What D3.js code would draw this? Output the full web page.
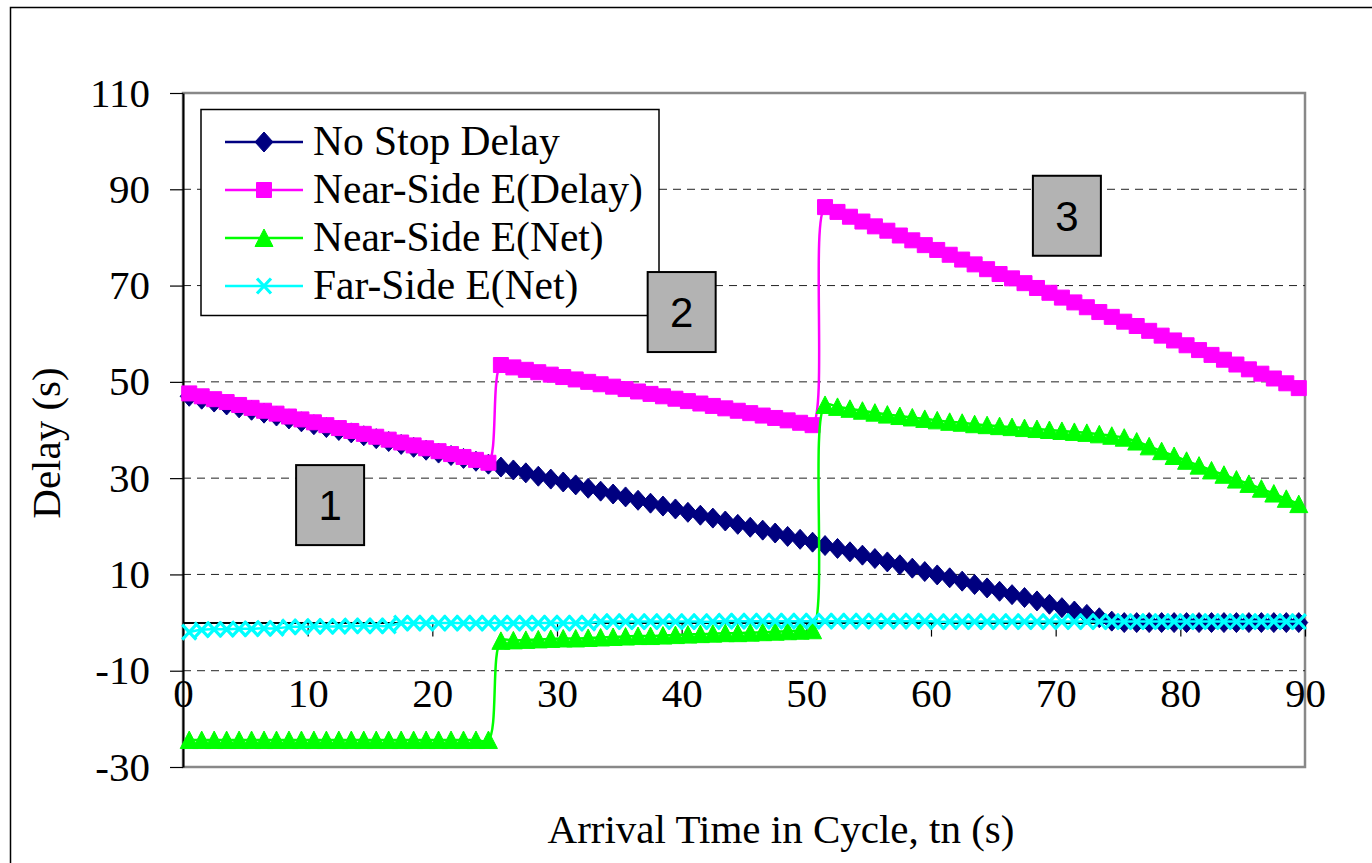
<!DOCTYPE html>
<html>
<head>
<meta charset="utf-8">
<script src="https://cdn.jsdelivr.net/npm/d3@7"></script>
<style>
  body { margin: 0; background: #fff; }
  svg { display: block; }
  text { font-family: "Liberation Serif", "Times New Roman", serif; }
</style>
</head>
<body>
<svg id="chart"></svg>
<script>
// arrival times (s) - points sit in the middle of each second
const TIMES = [
  0.5, 1.5, 2.5, 3.5, 4.5, 5.5, 6.5, 7.5, 8.5, 9.5,
  10.5, 11.5, 12.5, 13.5, 14.5, 15.5, 16.5, 17.5, 18.5, 19.5,
  20.5, 21.5, 22.5, 23.5, 24.5, 25.5, 26.5, 27.5, 28.5, 29.5,
  30.5, 31.5, 32.5, 33.5, 34.5, 35.5, 36.5, 37.5, 38.5, 39.5,
  40.5, 41.5, 42.5, 43.5, 44.5, 45.5, 46.5, 47.5, 48.5, 49.5,
  50.5, 51.5, 52.5, 53.5, 54.5, 55.5, 56.5, 57.5, 58.5, 59.5,
  60.5, 61.5, 62.5, 63.5, 64.5, 65.5, 66.5, 67.5, 68.5, 69.5,
  70.5, 71.5, 72.5, 73.5, 74.5, 75.5, 76.5, 77.5, 78.5, 79.5,
  80.5, 81.5, 82.5, 83.5, 84.5, 85.5, 86.5, 87.5, 88.5, 89.5
];

const NO_STOP_DELAY = [
  47.0, 46.4, 45.8, 45.2, 44.6, 44.1, 43.5, 42.9, 42.3, 41.7,
  41.1, 40.5, 39.9, 39.4, 38.8, 38.2, 37.6, 37.0, 36.4, 35.8,
  35.2, 34.7, 34.1, 33.5, 32.9, 32.3, 31.7, 31.1, 30.4, 29.8,
  29.2, 28.6, 27.9, 27.3, 26.7, 26.1, 25.4, 24.8, 24.2, 23.6,
  22.9, 22.3, 21.7, 21.1, 20.4, 19.8, 19.2, 18.6, 17.9, 17.3,
  16.7, 16.0, 15.4, 14.7, 14.0, 13.3, 12.6, 12.0, 11.3, 10.6,
  9.9, 9.3, 8.6, 7.9, 7.2, 6.5, 5.8, 5.2, 4.5, 3.8,
  3.1, 2.4, 1.7, 1.0, 0.3, 0, 0, 0, 0, 0,
  0, 0, 0, 0, 0, 0, 0, 0, 0, 0
];

const NEAR_SIDE_DELAY = [
  47.6, 47.0, 46.4, 45.8, 45.2, 44.6, 44.0, 43.4, 42.8, 42.2,
  41.6, 41.0, 40.4, 39.8, 39.2, 38.6, 38.0, 37.4, 36.8, 36.2,
  35.6, 35.0, 34.4, 33.8, 33.2, 53.5, 53.0, 52.5, 52.0, 51.5,
  51.0, 50.5, 50.0, 49.5, 49.0, 48.5, 48.0, 47.5, 47.0, 46.5,
  46.0, 45.5, 45.0, 44.5, 44.0, 43.5, 43.0, 42.5, 42.0, 41.5,
  41.0, 86.3, 85.3, 84.3, 83.3, 82.3, 81.4, 80.4, 79.4, 78.4,
  77.4, 76.4, 75.4, 74.4, 73.4, 72.4, 71.5, 70.5, 69.5, 68.5,
  67.5, 66.5, 65.5, 64.5, 63.5, 62.5, 61.6, 60.6, 59.6, 58.6,
  57.6, 56.6, 55.6, 54.6, 53.6, 52.6, 51.7, 50.7, 49.7, 48.7
];

const NEAR_SIDE_NET = [
  -24.4, -24.4, -24.4, -24.4, -24.4, -24.4, -24.4, -24.4, -24.4, -24.4,
  -24.4, -24.4, -24.4, -24.4, -24.4, -24.4, -24.4, -24.4, -24.4, -24.4,
  -24.4, -24.4, -24.4, -24.4, -24.4, -3.8, -3.7, -3.6, -3.5, -3.4,
  -3.3, -3.3, -3.2, -3.1, -3.0, -2.9, -2.8, -2.8, -2.7, -2.6,
  -2.5, -2.4, -2.3, -2.2, -2.2, -2.1, -2.0, -1.9, -1.8, -1.7,
  -1.6, 45.2, 44.8, 44.4, 44.0, 43.6, 43.2, 42.9, 42.6, 42.3,
  42.0, 41.7, 41.5, 41.2, 41.0, 40.8, 40.6, 40.4, 40.2, 40.0,
  39.8, 39.6, 39.4, 39.1, 38.8, 38.4, 37.6, 36.6, 35.6, 34.6,
  33.6, 32.6, 31.6, 30.7, 29.7, 28.8, 27.8, 26.8, 25.7, 24.6
];

const FAR_SIDE_NET = [
  -2.0, -1.5, -1.4, -1.4, -1.3, -1.3, -1.2, -1.2, -0.9, -0.9,
  -0.8, -0.8, -0.8, -0.7, -0.7, -0.7, -0.7, -0.1, -0.1, -0.1,
  -0.1, -0.1, -0.1, -0.1, -0.1, -0.1, -0.1, -0.1, -0.1, -0.1,
  -0.1, -0.1, -0.1, 0.2, 0.2, 0.2, 0.2, 0.2, 0.2, 0.2,
  0.2, 0.2, 0.2, 0.3, 0.3, 0.3, 0.3, 0.3, 0.3, 0.3,
  0.3, 0.3, 0.3, 0.3, 0.3, 0.3, 0.3, 0.3, 0.3, 0.3,
  0.2, 0.2, 0.2, 0.2, 0.2, 0.2, 0.2, 0.2, 0.2, 0.2,
  0.2, 0.2, 0.2, 0.2, 0.2, 0.2, 0.2, 0.2, 0.2, 0.2,
  0.2, 0.2, 0.2, 0.2, 0.2, 0.2, 0.2, 0.2, 0.2, 0.2
];

const SERIES_NAMES = ["No Stop Delay", "Near-Side E(Delay)", "Near-Side E(Net)", "Far-Side E(Net)"];
const SERIES_COLORS = ["#000080", "#ff00ff", "#00ff00", "#00ffff"];
const SERIES_MARKERS = ["diamond", "square", "triangle", "cross"];
const SERIES_VALUES = [NO_STOP_DELAY, NEAR_SIDE_DELAY, NEAR_SIDE_NET, FAR_SIDE_NET];

const X_TICKS = [0, 10, 20, 30, 40, 50, 60, 70, 80, 90];
const Y_TICKS = [-30, -10, 10, 30, 50, 70, 90, 110];
const GRID_VALUES = [-10, 10, 30, 50, 70, 90];

// numbered boxes, positioned in data units (time, delay)
const NOTE_LABELS = ["1", "2", "3"];
const NOTE_X = [11.8, 40.0, 70.9];
const NOTE_Y = [24.4, 64.5, 84.5];

const WIDTH = 1372;
const HEIGHT = 863;
const LEFT = 183, RIGHT = 1305, TOP = 93, BOTTOM = 767;

const svg = d3.select("#chart")
    .attr("width", WIDTH)
    .attr("height", HEIGHT);

const x = d3.scaleLinear().domain([0, 90]).range([LEFT, RIGHT]);
const y = d3.scaleLinear().domain([-30, 110]).range([BOTTOM, TOP]);

// outer chart frame (right/bottom edges run off the picture)
svg.append("rect")
    .attr("x", 10.5).attr("y", 7.5)
    .attr("width", 1420).attr("height", 920)
    .attr("fill", "#fff")
    .attr("stroke", "#000")
    .attr("stroke-width", 1.5);

// plot area border
svg.append("rect")
    .attr("x", LEFT).attr("y", TOP)
    .attr("width", RIGHT - LEFT).attr("height", BOTTOM - TOP)
    .attr("fill", "none")
    .attr("stroke", "#888")
    .attr("stroke-width", 2.5);

// dashed gridlines
svg.append("g")
    .selectAll("line")
    .data(GRID_VALUES)
    .enter().append("line")
    .attr("x1", LEFT).attr("x2", RIGHT)
    .attr("y1", d => y(d)).attr("y2", d => y(d))
    .attr("stroke", "#222")
    .attr("stroke-width", 1)
    .attr("stroke-dasharray", "8,6");

// y axis
const yAxis = svg.append("g")
    .attr("transform", "translate(" + LEFT + ",0)")
    .call(d3.axisLeft(y).tickValues(Y_TICKS).tickSize(13).tickSizeOuter(0).tickPadding(20).tickFormat(d => String(d)));

// x axis crosses at zero delay
const xAxis = svg.append("g")
    .attr("transform", "translate(0," + y(0) + ")")
    .call(d3.axisBottom(x).tickValues(X_TICKS).tickSize(14).tickSizeOuter(0).tickPadding(41).tickFormat(d => String(d)));

[yAxis, xAxis].forEach(function(ax) {
    ax.select(".domain").attr("stroke", "#000").attr("stroke-width", 2);
    ax.selectAll(".tick line").attr("stroke", "#000").attr("stroke-width", 1.2);
    ax.selectAll(".tick text")
        .attr("fill", "#000")
        .style("font-family", "'Liberation Serif', 'Times New Roman', serif")
        .style("font-size", "41px");
});

function markerPath(type) {
    switch (type) {
        case "diamond":
            return "M0,-10L9,0L0,10L-9,0Z";
        case "square":
            return "M-7.5,-7.5H7.5V7.5H-7.5Z";
        case "triangle":
            return "M0,-9L9,8.5H-9Z";
        case "cross":
            return "M-7,-7.5L7,7.5M-7,7.5L7,-7.5";
    }
}

function drawMarker(sel, type, color) {
    if (type === "cross") {
        sel.append("path")
            .attr("d", markerPath(type))
            .attr("fill", "none")
            .attr("stroke", color)
            .attr("stroke-width", 3.2);
    } else {
        sel.append("path")
            .attr("d", markerPath(type))
            .attr("fill", color)
            .attr("stroke", color)
            .attr("stroke-width", 1);
    }
}

const line = d3.line()
    .x(d => x(d.t))
    .y(d => y(d.v))
    .curve(d3.curveCatmullRom.alpha(0.5));

SERIES_VALUES.forEach(function(values, s) {
    const pts = values.map((v, i) => ({ t: TIMES[i], v: v }));
    const g = svg.append("g").attr("class", "series");

    g.append("path")
        .datum(pts)
        .attr("d", line)
        .attr("fill", "none")
        .attr("stroke", SERIES_COLORS[s])
        .attr("stroke-width", 2.5);

    g.selectAll(".pt")
        .data(pts)
        .enter().append("g")
        .attr("class", "pt")
        .attr("transform", d => "translate(" + x(d.t) + "," + y(d.v) + ")")
        .each(function() {
            drawMarker(d3.select(this), SERIES_MARKERS[s], SERIES_COLORS[s]);
        });
});

// legend
const legend = svg.append("g");
legend.append("rect")
    .attr("x", 201).attr("y", 109.5)
    .attr("width", 458).attr("height", 206)
    .attr("fill", "#fff")
    .attr("stroke", "#000")
    .attr("stroke-width", 1.5);

const items = legend.selectAll(".item")
    .data(SERIES_NAMES)
    .enter().append("g")
    .attr("class", "item")
    .attr("transform", (d, i) => "translate(0," + (142 + i * 48) + ")");

items.append("line")
    .attr("x1", 225).attr("x2", 303)
    .attr("stroke", (d, i) => SERIES_COLORS[i])
    .attr("stroke-width", 2.5);

items.each(function(d, i) {
    const m = d3.select(this).append("g").attr("transform", "translate(264,0)");
    drawMarker(m, SERIES_MARKERS[i], SERIES_COLORS[i]);
});

items.append("text")
    .attr("x", 313)
    .attr("y", 13)
    .style("font-size", "41.5px")
    .text(d => d);

// numbered boxes
const notes = svg.selectAll(".note")
    .data(NOTE_LABELS)
    .enter().append("g")
    .attr("class", "note")
    .attr("transform", (d, i) => "translate(" + x(NOTE_X[i]) + "," + y(NOTE_Y[i]) + ")");

notes.append("rect")
    .attr("x", -34).attr("y", -40)
    .attr("width", 68).attr("height", 80)
    .attr("fill", "#b3b3b3")
    .attr("stroke", "#000")
    .attr("stroke-width", 2);

notes.append("text")
    .attr("text-anchor", "middle")
    .attr("y", 15)
    .style("font-family", "'Liberation Sans', Arial, sans-serif")
    .style("font-size", "42px")
    .text(d => d);

// axis titles
svg.append("text")
    .attr("x", 781)
    .attr("y", 843)
    .attr("text-anchor", "middle")
    .style("font-size", "41px")
    .text("Arrival Time in Cycle, tn (s)");

svg.append("text")
    .attr("transform", "translate(60,443) rotate(-90)")
    .attr("text-anchor", "middle")
    .style("font-size", "41px")
    .text("Delay (s)");
</script>
</body>
</html>
